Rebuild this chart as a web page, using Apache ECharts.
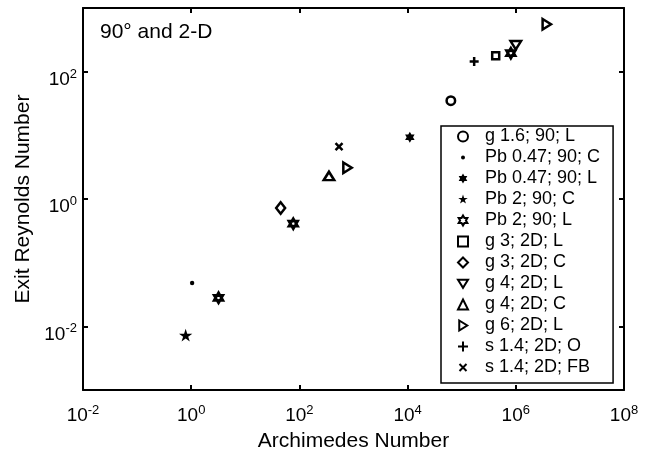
<!DOCTYPE html>
<html>
<head>
<meta charset="utf-8">
<script src="https://cdn.jsdelivr.net/npm/echarts@6/dist/echarts.min.js"></script>
<style>
html, body { margin: 0; padding: 0; background: #fff; }
#main { width: 649px; height: 451px; }
</style>
</head>
<body>
<div id="main"></div>
<script>
// Archimedes number (x) and exit Reynolds number (y), one pair of arrays per data set
var g16_90_L_x = [6.3e4];              var g16_90_L_y = [35];
var pb047_90_C_x = [1.04];             var pb047_90_C_y = [0.048];
var pb047_90_L_x = [1.1e4];            var pb047_90_L_y = [9.3];
var pb2_90_C_x = [0.79];               var pb2_90_C_y = [0.0071];
var pb2_90_L_x = [3.2, 77, 8.1e5];     var pb2_90_L_y = [0.028, 0.41, 195];
var g3_2D_L_x = [4.25e5];              var g3_2D_L_y = [178];
var g3_2D_C_x = [45];                  var g3_2D_C_y = [0.72];
var g4_2D_L_x = [1.0e6];               var g4_2D_L_y = [262];
var g4_2D_C_x = [352];                 var g4_2D_C_y = [2.3];
var g6_2D_L_x = [767, 3.7e6];          var g6_2D_L_y = [3.1, 555];
var s14_2D_O_x = [1.7e5];              var s14_2D_O_y = [144];
var s14_2D_FB_x = [540];               var s14_2D_FB_y = [6.65];

var xTicks = [1e-2, 1e0, 1e2, 1e4, 1e6, 1e8];
var yTicks = [1e-2, 1e0, 1e2];

var FONT = 'Liberation Sans';

// path symbols all start with two bare moves so their box is always [-1,1]
var BOX = 'path://M-1,-1M1,1';
var SYM = {
  dot: BOX + 'M-0.4,0A0.4,0.4,0,1,0,0.4,0A0.4,0.4,0,1,0,-0.4,0Z',
  star: BOX + 'M0,-1L0.2245,-0.309L0.951,-0.309L0.363,0.118L0.588,0.809L0,0.382L-0.588,0.809L-0.363,0.118L-0.951,-0.309L-0.2245,-0.309Z',
  hex: BOX + 'M0,-1L0.289,-0.5L0.866,-0.5L0.577,0L0.866,0.5L0.289,0.5L0,1L-0.289,0.5L-0.866,0.5L-0.577,0L-0.866,-0.5L-0.289,-0.5Z',
  triDown: BOX + 'M-1,-0.75L1,-0.75L0,0.85Z',
  triRight: BOX + 'M-0.75,-1L0.85,0L-0.75,1Z',
  plus: BOX + 'M0,-1L0,1M-1,0L1,0',
  cross: BOX + 'M-0.7,-0.7L0.7,0.7M-0.7,0.7L0.7,-0.7'
};

function pts(xs, ys) {
  return xs.map(function (x, i) { return [x, ys[i]]; });
}

// kind: 'open' = white inside black outline, 'fill' = solid black, 'line' = stroke only
function mk(name, xs, ys, symbol, size, kind, bw) {
  var style;
  if (kind == 'open') {
    style = { color: '#fff', borderColor: '#000', borderWidth: bw || 2.5, opacity: 1 };
  } else if (kind == 'line') {
    style = { color: '#000', borderColor: '#000', borderWidth: bw || 2.5, opacity: 1 };
  } else {
    style = { color: '#000', borderColor: '#000', borderWidth: 0, opacity: 1 };
  }
  return {
    name: name,
    type: 'scatter',
    data: pts(xs, ys),
    symbol: symbol,
    symbolSize: size,
    symbolKeepAspect: false,
    itemStyle: style,
    emphasis: { disabled: true }
  };
}

function powLabel(val) {
  return '{b|10}{e|' + Math.round(Math.log10(val)) + '}';
}

var labelRich = {
  b: { fontSize: 19, fontFamily: FONT, color: '#000', lineHeight: 24 },
  e: { fontSize: 13, fontFamily: FONT, color: '#000', verticalAlign: 'top', lineHeight: 12 }
};

var chart = echarts.init(document.getElementById('main'));

var option = {
  animation: false,
  backgroundColor: '#fff',
  textStyle: { fontFamily: FONT, color: '#000' },
  title: {
    text: '90° and 2-D',
    left: 100,
    top: 22,
    padding: 0,
    textStyle: { fontSize: 21, fontWeight: 'normal', fontFamily: FONT, color: '#000' }
  },
  grid: { left: 83, right: 25, top: 8, bottom: 61, outerBoundsMode: 'none' },
  legend: {
    orient: 'vertical',
    left: 441,
    top: 126,
    padding: [0, 13, 5, 16],
    itemGap: 0,
    itemWidth: 10,
    itemHeight: 10,
    backgroundColor: '#fff',
    borderColor: '#000',
    borderWidth: 1.5,
    borderRadius: 0,
    selectedMode: false,
    textStyle: { fontSize: 18, lineHeight: 21, fontFamily: FONT, color: '#000', padding: [0, 0, 0, 12] }
  },
  xAxis: [{
    type: 'log',
    logBase: 10,
    min: 1e-2,
    max: 1e8,
    name: 'Archimedes Number',
    nameLocation: 'middle',
    nameGap: 36,
    nameTextStyle: { fontSize: 21, fontFamily: FONT, color: '#000' },
    axisLine: { lineStyle: { color: '#000', width: 2 } },
    axisTick: { inside: true, length: 5, customValues: xTicks, lineStyle: { color: '#000', width: 2 } },
    axisLabel: { customValues: xTicks, margin: 14, formatter: powLabel, rich: labelRich },
    minorTick: { show: false },
    splitLine: { show: false }
  }, {
    type: 'log',
    logBase: 10,
    min: 1e-2,
    max: 1e8,
    position: 'top',
    axisLine: { lineStyle: { color: '#000', width: 2 } },
    axisTick: { inside: true, length: 5, customValues: xTicks, lineStyle: { color: '#000', width: 2 } },
    axisLabel: { show: false },
    splitLine: { show: false }
  }],
  yAxis: [{
    type: 'log',
    logBase: 10,
    min: 1e-3,
    max: 1e3,
    name: 'Exit Reynolds Number',
    nameLocation: 'middle',
    nameGap: 47,
    nameTextStyle: { fontSize: 21, fontFamily: FONT, color: '#000' },
    axisLine: { lineStyle: { color: '#000', width: 2 } },
    axisTick: { inside: true, length: 5, customValues: yTicks, lineStyle: { color: '#000', width: 2 } },
    axisLabel: { customValues: yTicks, margin: 6, padding: [16, 0, 0, 0], formatter: powLabel, rich: labelRich },
    splitLine: { show: false }
  }, {
    type: 'log',
    logBase: 10,
    min: 1e-3,
    max: 1e3,
    position: 'right',
    axisLine: { lineStyle: { color: '#000', width: 2 } },
    axisTick: { inside: true, length: 5, customValues: yTicks, lineStyle: { color: '#000', width: 2 } },
    axisLabel: { show: false },
    splitLine: { show: false }
  }],
  series: [
    mk('g 1.6; 90; L', g16_90_L_x, g16_90_L_y, 'circle', 8.5, 'open'),
    mk('Pb 0.47; 90; C', pb047_90_C_x, pb047_90_C_y, SYM.dot, 11, 'fill'),
    mk('Pb 0.47; 90; L', pb047_90_L_x, pb047_90_L_y, SYM.hex, 11, 'fill'),
    mk('Pb 2; 90; C', pb2_90_C_x, pb2_90_C_y, SYM.star, 14, 'fill'),
    mk('Pb 2; 90; L', pb2_90_L_x, pb2_90_L_y, SYM.hex, 9.5, 'open', 3),
    mk('g 3; 2D; L', g3_2D_L_x, g3_2D_L_y, 'rect', 7, 'open'),
    mk('g 3; 2D; C', g3_2D_C_x, g3_2D_C_y, 'diamond', [9, 11.5], 'open'),
    mk('g 4; 2D; L', g4_2D_L_x, g4_2D_L_y, SYM.triDown, 10.5, 'open'),
    mk('g 4; 2D; C', g4_2D_C_x, g4_2D_C_y, 'triangle', [10.5, 8.5], 'open'),
    mk('g 6; 2D; L', g6_2D_L_x, g6_2D_L_y, SYM.triRight, 10.5, 'open'),
    mk('s 1.4; 2D; O', s14_2D_O_x, s14_2D_O_y, SYM.plus, 9, 'line'),
    mk('s 1.4; 2D; FB', s14_2D_FB_x, s14_2D_FB_y, SYM.cross, 10, 'line')
  ]
};

chart.setOption(option);
</script>
</body>
</html>
